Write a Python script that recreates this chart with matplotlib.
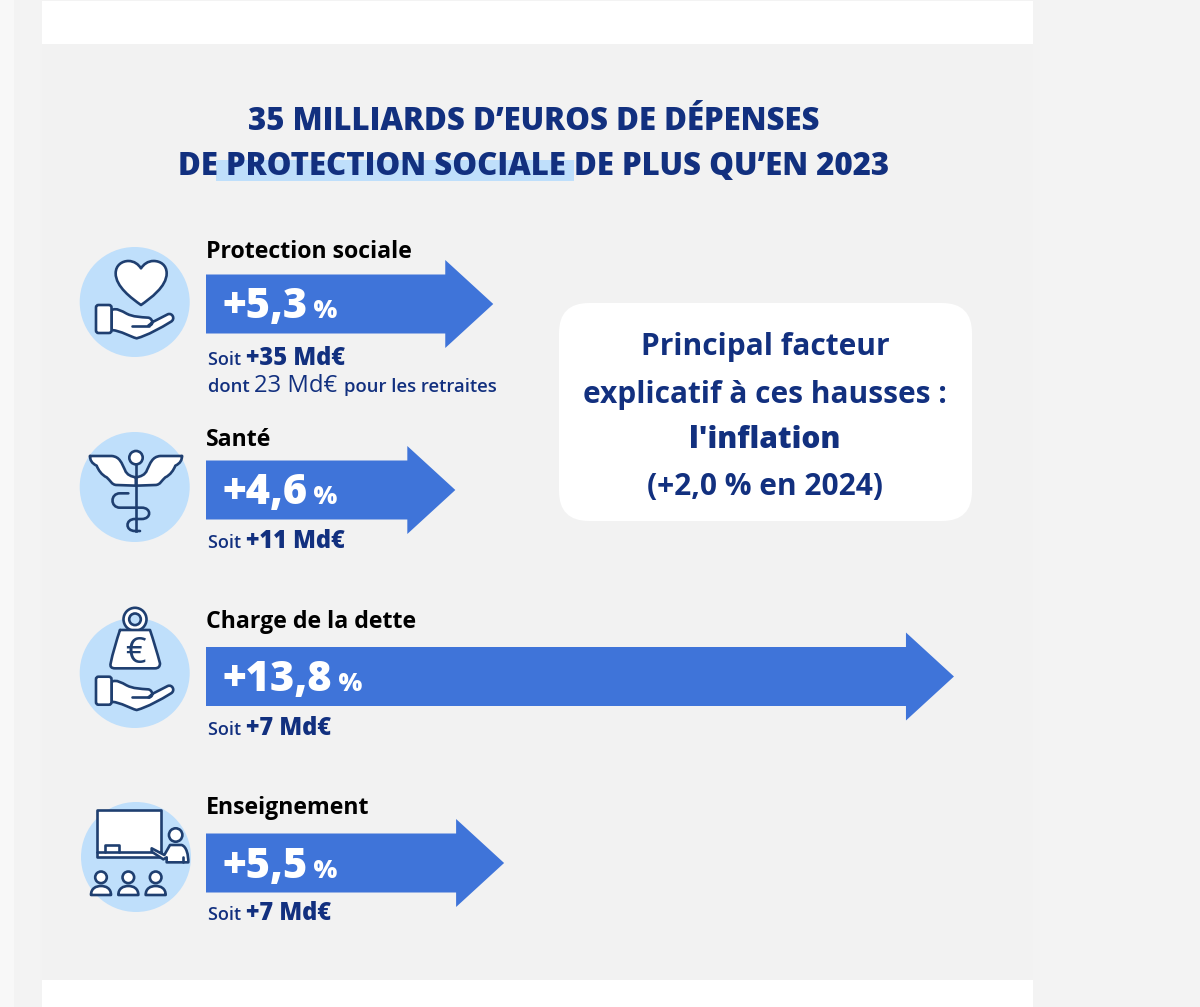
import matplotlib
matplotlib.use("Agg")
import matplotlib.pyplot as plt
from matplotlib.patches import Rectangle, Circle, FancyArrow, FancyBboxPatch, PathPatch
from matplotlib.path import Path

# donnees
categories = ["Protection sociale", "Santé", "Charge de la dette", "Enseignement"]
hausses = [5.3, 4.6, 13.8, 5.5]
hausses_txt = ["+5,3", "+4,6", "+13,8", "+5,5"]
milliards = ["+35 Md€", "+11 Md€", "+7 Md€", "+7 Md€"]

# mise en page, en pixels
centres_fleche = [304, 490, 676.5, 863]
base_label = [258.5, 446.5, 627.5, 813.5]
base_soit = [365, 548, 735, 920]
centres_icone = [(134.7, 302), (134.7, 487), (134.7, 673), (136, 857)]
x0 = 206
px_par_point = 54.2

NAVY = "#12307f"
TRAIT = "#1f3f70"
BLEU = "#3f74d9"
CLAIR = "#bfdffb"
GRIS = "#f2f2f2"
FONT = "Open Sans"
LW = 1.9

fig = plt.figure(figsize=(12, 10.07), dpi=100)
ax = fig.add_axes([0, 0, 1, 1])
ax.set_xlim(0, 1200)
ax.set_ylim(1007, 0)
ax.axis("off")

# fond
ax.add_patch(Rectangle((0, 0), 1200, 1007, fc="#f3f3f3", ec="none"))
ax.add_patch(Rectangle((0, 0), 14, 1007, fc="#f8f8f8", ec="none"))
ax.add_patch(Rectangle((42, 1), 991, 43, fc="white", ec="none"))
ax.add_patch(Rectangle((42, 980), 991, 27, fc="white", ec="none"))
ax.add_patch(Rectangle((42, 44), 991, 936, fc=GRIS, ec="none"))


def suite_textes(x, y, morceaux):
    # textes les uns apres les autres sur la meme ligne de base
    r = fig.canvas.get_renderer()
    for s, taille, poids, coul in morceaux:
        t = ax.text(x, y, s, fontsize=taille, fontweight=poids, color=coul,
                    family=FONT, ha="left", va="baseline", zorder=6)
        x = t.get_window_extent(r).x1


M, L, C3, C4 = Path.MOVETO, Path.LINETO, Path.CURVE3, Path.CURVE4


def trace(pts, ox, oy, fc="none", ferme=False, z=4):
    # pts : suite de (code, points) en coordonnees du zoom x3, origine (ox, oy)
    verts, codes = [], []
    for c, p in pts:
        for q in p:
            verts.append((q[0] / 3 + ox, q[1] / 3 + oy))
            codes.append(c)
    if ferme:
        verts.append(verts[0])
        codes.append(Path.CLOSEPOLY)
    ax.add_patch(PathPatch(Path(verts, codes), fc=fc, ec=TRAIT, lw=LW, zorder=z,
                           capstyle="round", joinstyle="round"))


def main_ouverte(dy=0):
    oy = 255 + dy
    trace([(M, [(80, 165)]),
           (C4, [(95, 158), (110, 168), (125, 176)]),
           (C4, [(145, 186), (165, 186), (190, 188)]),
           (C4, [(203, 190), (208, 212), (190, 212)]),
           (L, [(205, 200)]),
           (L, [(248, 178)]),
           (C4, [(262, 172), (272, 192), (258, 200)]),
           (C4, [(225, 220), (190, 240), (155, 250)]),
           (C4, [(135, 245), (110, 228), (80, 225)])], 85, oy, fc="white", ferme=True)
    trace([(M, [(140, 212)]), (L, [(192, 212)])], 85, oy, z=5)
    ax.add_patch(FancyBboxPatch((96, oy + 50), 15.5, 28, boxstyle="round,pad=0,rounding_size=2.5",
                                fc="white", ec=TRAIT, lw=LW, zorder=5))


def icone_coeur():
    trace([(M, [(168, 150)]),
           (C4, [(140, 130), (92, 95), (92, 55)]),
           (C4, [(92, 30), (112, 18), (130, 18)]),
           (C4, [(148, 18), (160, 28), (168, 40)]),
           (C4, [(176, 28), (188, 18), (206, 18)]),
           (C4, [(226, 18), (245, 30), (245, 55)]),
           (C4, [(245, 95), (196, 130), (168, 150)])], 85, 255, fc="white", ferme=True)
    main_ouverte()


def icone_sante():
    ox, oy = 85, 445
    aile = [(15, 33), (80, 33), (105, 35), (110, 55), (120, 75), (125, 90), (140, 95), (153, 97),
            (153, 122), (95, 120), (80, 120), (75, 105), (65, 97), (50, 90), (40, 75), (35, 62),
            (20, 55), (15, 45), (15, 33)]
    for a in (aile, [(306 - x, y) for x, y in aile]):
        trace([(M, a[:1]), (L, a[1:2]), (C4, a[2:8]), (L, a[8:10]), (C4, a[10:])], ox, oy, fc="white")
    ax.plot([136, 136], [58 / 3 + oy, 258 / 3 + oy], color=TRAIT, lw=LW, zorder=5)
    ax.add_patch(Circle((136, 38 / 3 + oy), 6.7, fc="white", ec=TRAIT, lw=LW, zorder=5))
    trace([(M, [(130, 145)]), (L, [(105, 145)]),
           (C4, [(75, 145), (75, 188), (105, 188)]),
           (L, [(170, 188)]),
           (C4, [(200, 188), (200, 222), (170, 222)]),
           (L, [(150, 222)]),
           (C4, [(120, 222), (120, 258), (150, 258)]),
           (L, [(165, 258)])], ox, oy)


def icone_dette():
    main_ouverte(371.7)
    ox, oy = 70, 600
    ax.add_patch(Circle((135, 619.3), 11.5, fc="white", ec=TRAIT, lw=LW, zorder=4))
    ax.add_patch(Circle((135, 619.3), 5.8, fc=CLAIR, ec=TRAIT, lw=LW, zorder=4))
    trace([(M, [(150, 90)]), (L, [(240, 90)]),
           (C4, [(250, 120), (262, 160), (270, 190)]),
           (C3, [(270, 205), (255, 205)]),
           (L, [(135, 205)]),
           (C3, [(118, 205), (122, 190)]),
           (C4, [(128, 160), (140, 120), (150, 90)])], ox, oy, fc="white", z=5)
    ax.text(135, 649.5, "€", fontsize=26, color=TRAIT, family=FONT,
            ha="center", va="center_baseline", zorder=6)


def icone_prof():
    ox, oy = 85, 800
    trace([(M, [(35, 30)]), (L, [(227, 30), (227, 172), (35, 172)])], ox, oy, fc="white", ferme=True)
    trace([(M, [(35, 155)]), (L, [(227, 155)])], ox, oy, z=5)
    trace([(M, [(60, 155)]), (L, [(60, 135), (102, 135), (102, 155)])], ox, oy, z=5)
    ax.add_patch(Circle((272 / 3 + ox, 105 / 3 + oy), 6.7, fc="white", ec=TRAIT, lw=LW, zorder=5))
    trace([(M, [(200, 145)]), (L, [(238, 165), (255, 135), (290, 135)]),
           (C4, [(305, 140), (310, 165), (310, 187)]),
           (L, [(245, 187), (245, 172), (235, 178), (200, 155)])], ox, oy, fc="white", ferme=True, z=5)
    trace([(M, [(295, 170)]), (L, [(295, 187)])], ox, oy, z=6)
    for xp in [48, 130, 212]:
        ax.add_patch(Circle((xp / 3 + ox, 232 / 3 + oy), 5.8, fc="white", ec=TRAIT, lw=LW, zorder=5))
        trace([(M, [(xp - 30, 285)]),
               (C4, [(xp - 30, 265), (xp - 15, 258), (xp, 258)]),
               (C4, [(xp + 15, 258), (xp + 30, 265), (xp + 30, 285)])], ox, oy, fc="white", ferme=True, z=5)


# titre
ax.add_patch(Rectangle((216, 160), 358, 21, fc=CLAIR, ec="none", zorder=1))
ax.text(534, 118, "35 MILLIARDS D’EUROS DE DÉPENSES", fontsize=22.4, fontweight=800, color=NAVY,
        family=FONT, ha="center", va="center_baseline", zorder=3)
ax.text(534, 163.5, "DE PROTECTION SOCIALE DE PLUS QU’EN 2023", fontsize=22.4, fontweight=800, color=NAVY,
        family=FONT, ha="center", va="center_baseline", zorder=3)

# icones
for (cx, cy) in centres_icone:
    ax.add_patch(Circle((cx, cy), 55, fc=CLAIR, ec="none", zorder=2))
icone_coeur()
icone_sante()
icone_dette()
icone_prof()

# fleches
for i, cat in enumerate(categories):
    yc = centres_fleche[i]
    ax.add_patch(FancyArrow(x0, yc, hausses[i] * px_par_point, 0, width=59, head_width=88,
                            head_length=48, length_includes_head=True, fc=BLEU, ec="none", zorder=3))
    ax.text(x0, base_label[i], cat, fontsize=16.7, fontweight="bold", color="black", family=FONT,
            ha="left", va="baseline", zorder=6)
    suite_textes(222, yc + 14.5, [(hausses_txt[i], 30, 800, "white"), (" %", 18, 800, "white")])
    suite_textes(208, base_soit[i], [("Soit ", 13, "semibold", NAVY), (milliards[i], 17, 800, NAVY)])

suite_textes(208, 392, [("dont ", 13.3, "semibold", NAVY), ("23 Md€ ", 17.2, "normal", NAVY),
                        ("pour les retraites", 13.3, "semibold", NAVY)])

# encadre
ax.add_patch(FancyBboxPatch((559, 303), 413, 218, boxstyle="round,pad=0,rounding_size=30",
                            fc="white", ec="none", zorder=2))
for y, s, p in [(344, "Principal facteur", "bold"),
                (391, "explicatif à ces hausses :", "bold"),
                (437, "l'inflation", 800),
                (483, "(+2,0 % en 2024)", "bold")]:
    ax.text(765, y, s, fontsize=21.5, fontweight=p, color=NAVY, family=FONT,
            ha="center", va="center_baseline", zorder=6)

fig.savefig("out.png", dpi=100)
